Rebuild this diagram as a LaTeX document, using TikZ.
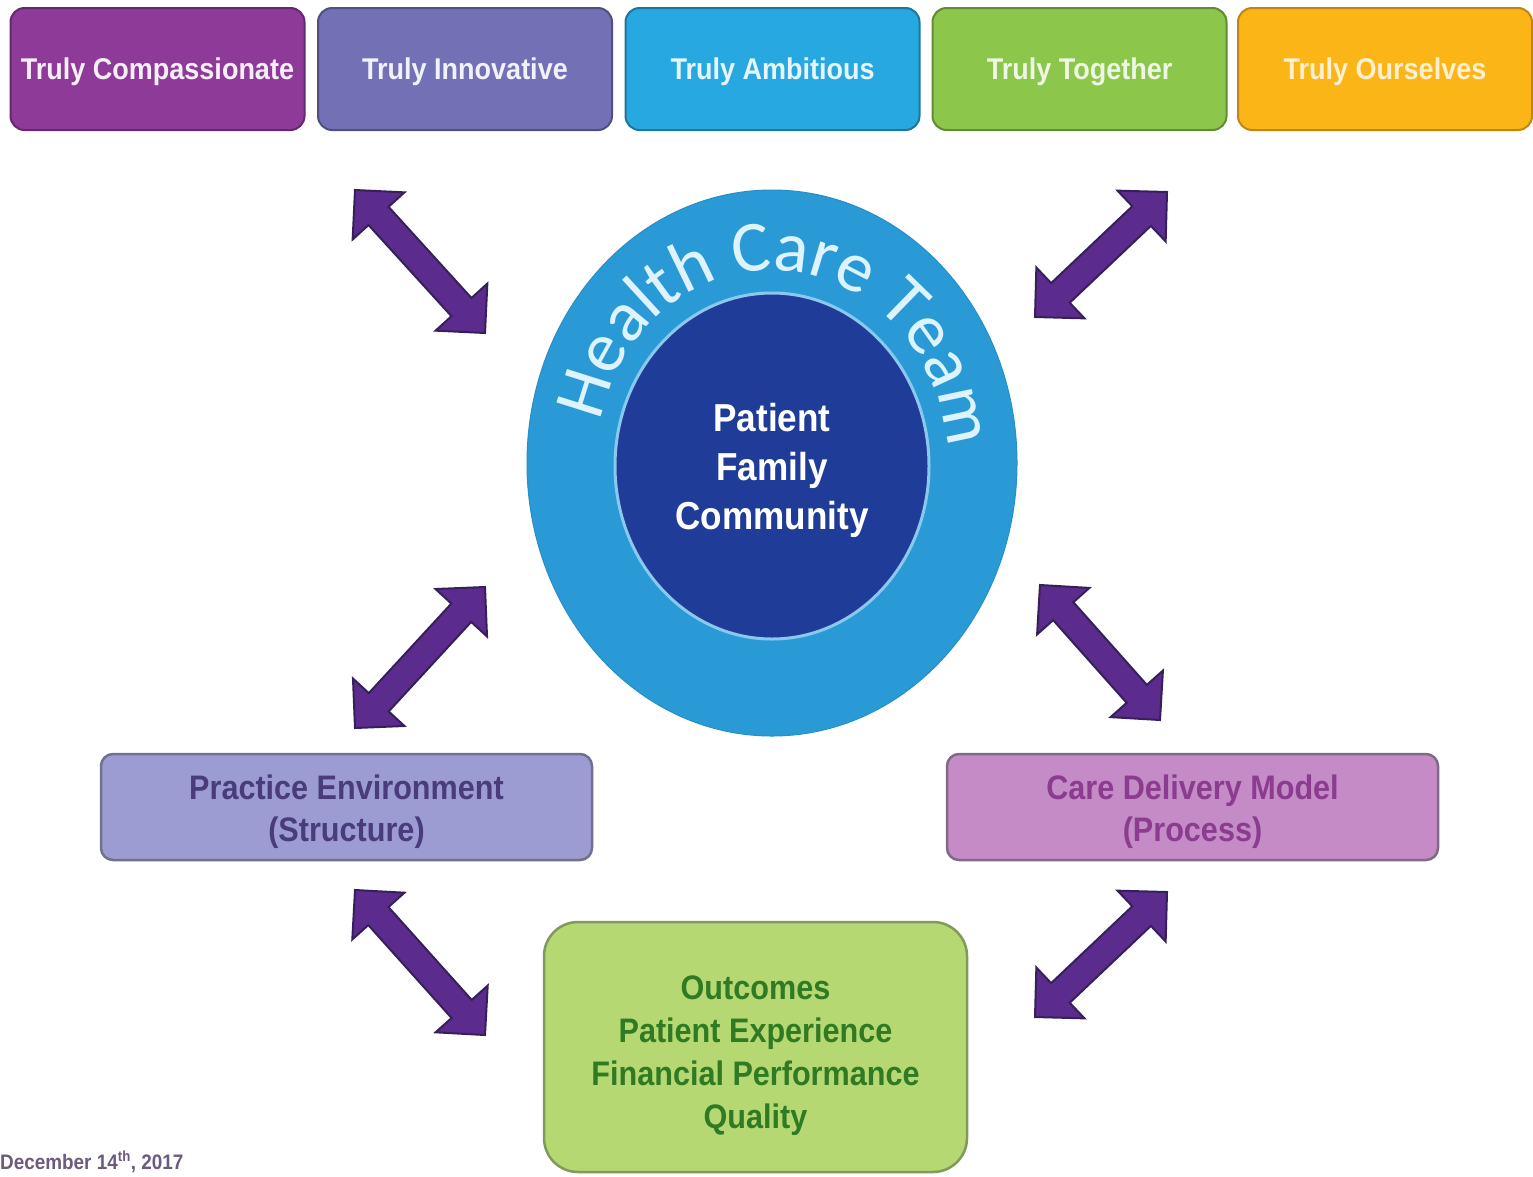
\documentclass[tikz,border=0pt]{standalone}
\usepackage{fontspec}
\usetikzlibrary{shapes.geometric,calc,decorations.text}
\newfontfamily\narrowsans[FakeStretch=0.9]{Liberation Sans}
\newfontfamily\hctfamily{Carlito}
\definecolor{cComp}{HTML}{8E3A98}
\definecolor{cInno}{HTML}{7371B6}
\definecolor{cAmb}{HTML}{28A8E0}
\definecolor{cTog}{HTML}{8CC64A}
\definecolor{cOur}{HTML}{FBB517}
\definecolor{outerc}{HTML}{2A9AD7}
\definecolor{innerc}{HTML}{1F3D98}
\definecolor{innerline}{HTML}{8AC8EE}
\definecolor{hctc}{HTML}{DDF3FF}
\definecolor{arrfill}{HTML}{5C2B8E}
\definecolor{arrline}{HTML}{35205A}
\definecolor{peFill}{HTML}{9C9CD2}
\definecolor{peLine}{HTML}{707090}
\definecolor{peText}{HTML}{4A3C7C}
\definecolor{cdFill}{HTML}{C48BC6}
\definecolor{cdLine}{HTML}{806A88}
\definecolor{cdText}{HTML}{8B3C8F}
\definecolor{ocFill}{HTML}{B6D873}
\definecolor{ocLine}{HTML}{809A5C}
\definecolor{ocText}{HTML}{2F7A22}
\definecolor{dateText}{HTML}{6E5A80}
\tikzset{
  topbox/.style={rectangle, rounded corners=14pt, minimum width=294pt, minimum height=122pt,
    line width=2pt, inner sep=0pt, font=\narrowsans\bfseries\fontsize{30}{36}\selectfont},
  midbox/.style={rectangle, rounded corners=12pt, minimum width=491pt, minimum height=106pt,
    line width=2.5pt, inner sep=0pt},
  midtext/.style={align=center, inner sep=0pt, font=\narrowsans\bfseries\fontsize{34}{42}\selectfont},
  arrowsty/.style={fill=arrfill, draw=arrline, line width=2pt, line join=miter}
}
\newcommand\dblarrow[2]{%
  \path[arrowsty] let \p1=(#1), \p2=(#2), \n1={atan2(\y2-\y1,\x2-\x1)} in
    (\p1) -- ($(\p1)+(\n1:35)+(\n1+90:35)$) -- ($(\p1)+(\n1:35)+(\n1+90:13.5)$)
    -- ($(\p2)+(\n1:-35)+(\n1+90:13.5)$) -- ($(\p2)+(\n1:-35)+(\n1+90:35)$)
    -- (\p2) -- ($(\p2)+(\n1:-35)+(\n1-90:35)$) -- ($(\p2)+(\n1:-35)+(\n1-90:13.5)$)
    -- ($(\p1)+(\n1:35)+(\n1-90:13.5)$) -- ($(\p1)+(\n1:35)+(\n1-90:35)$) -- cycle;}
\begin{document}
\begin{tikzpicture}[x=1pt,y=1pt]
\fill[white] (0,0) rectangle (1533,-1176);
\useasboundingbox (0,0) rectangle (1533,-1176);
% top value boxes
\node[topbox, fill=cComp, draw=cComp!70!black] (comp) at (157.5,-69) {};
\node[topbox, fill=cInno, draw=cInno!70!black] (inno) at (465,-69) {};
\node[topbox, fill=cAmb, draw=cAmb!70!black] (amb) at (772.5,-69) {};
\node[topbox, fill=cTog, draw=cTog!70!black] (tog) at (1079.5,-69) {};
\node[topbox, fill=cOur, draw=cOur!75!black] (our) at (1385,-69) {};
\node[topbox, text=white!92!cComp] (compt) at (157.5,-72) {Truly Compassionate};
\node[topbox, text=white!90!cInno] (innot) at (465,-72) {Truly Innovative};
\node[topbox, text=white!88!cAmb] (ambt) at (772.5,-72) {Truly Ambitious};
\node[topbox, text=white!85!cTog] (togt) at (1079.5,-72) {Truly Together};
\node[topbox, text=white!80!cOur] (ourt) at (1385,-72) {Truly Ourselves};
% central circles
\node[ellipse, fill=outerc, draw=outerc!92!black, line width=1pt, minimum width=490pt, minimum height=546pt] (outer) at (772,-463) {};
\node[ellipse, fill=innerc, draw=innerline, line width=3pt, minimum width=314pt, minimum height=346pt] (inner) at (772,-466) {};
\node[align=center, text=white, inner sep=0pt, font=\narrowsans\bfseries\fontsize{39}{49}\selectfont] (pfc) at (772,-470) {Patient\\Family\\Community};
\coordinate (hc) at (772,-463);
\path[decorate, decoration={text along path, text align=center,
   text={|\hctfamily\fontsize{72}{80}\selectfont\color{hctc}|Health Care Team}}]
  ($(hc)+(164:176 and 193)$) arc[start angle=164, end angle=8, x radius=176, y radius=193];
% lower boxes
\node[midbox, fill=peFill, draw=peLine] (pe) at (346.5,-807) {};
\node[midtext, text=peText] (pet) at (346.5,-812) {Practice Environment\\(Structure)};
\node[midbox, fill=cdFill, draw=cdLine] (cd) at (1192.5,-807) {};
\node[midtext, text=cdText] (cdt) at (1192.5,-812) {Care Delivery Model\\(Process)};
\node[rectangle, rounded corners=34pt, minimum width=423pt, minimum height=250pt, line width=2.5pt,
  fill=ocFill, draw=ocLine, inner sep=0pt] (oc) at (755.5,-1047) {};
\node[text=ocText, align=center, inner sep=0pt,
  font=\narrowsans\bfseries\fontsize{34}{43}\selectfont] (oct) at (755.5,-1056)
  {Outcomes\\Patient Experience\\Financial Performance\\Quality};
% arrow end points
\coordinate (a1s) at (355,-190); \coordinate (a1e) at (485,-333);
\coordinate (a2s) at (1167,-192); \coordinate (a2e) at (1035,-317);
\coordinate (a3s) at (485,-587); \coordinate (a3e) at (355,-728);
\coordinate (a4s) at (1040,-585); \coordinate (a4e) at (1160,-720);
\coordinate (a5s) at (355,-890); \coordinate (a5e) at (485,-1035);
\coordinate (a6s) at (1167,-892); \coordinate (a6e) at (1035,-1017);
\dblarrow{a1s}{a1e}
\dblarrow{a2s}{a2e}
\dblarrow{a3s}{a3e}
\dblarrow{a4s}{a4e}
\dblarrow{a5s}{a5e}
\dblarrow{a6s}{a6e}
% date
\node[anchor=west, inner sep=0pt, text=dateText, font=\narrowsans\bfseries\fontsize{21}{24}\selectfont] (date) at (0,-1162) {December 14\textsuperscript{th}, 2017};
\end{tikzpicture}
\end{document}
